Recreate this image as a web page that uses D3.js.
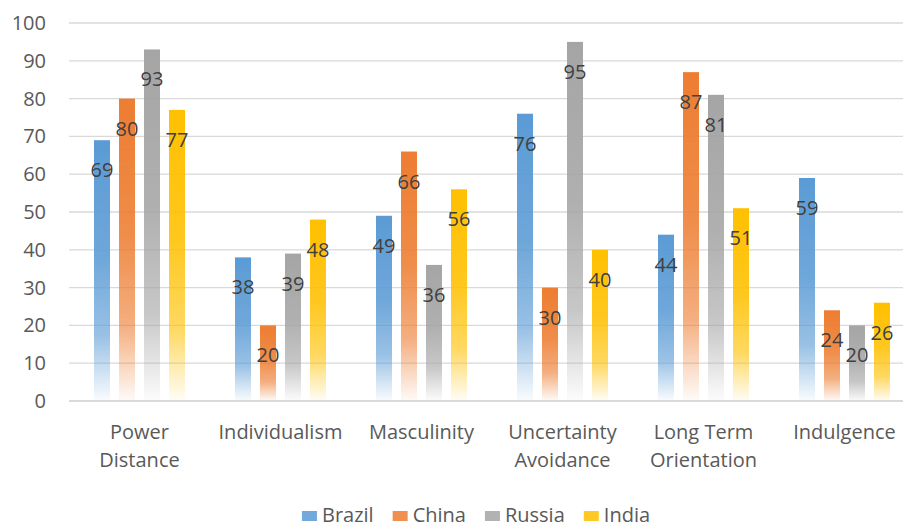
<!DOCTYPE html>
<html>
<head>
<meta charset="utf-8">
<script src="https://cdn.jsdelivr.net/npm/d3@7"></script>
<style>
  html, body { margin: 0; padding: 0; background: #fff; }
  svg { display: block; font-family: "Open Sans", Lato, sans-serif; }
</style>
</head>
<body>
<svg id="chart" width="903" height="529"></svg>
<script>
// Hofstede cultural dimension scores
const categories = [
  ["Power", "Distance"],
  ["Individualism"],
  ["Masculinity"],
  ["Uncertainty", "Avoidance"],
  ["Long Term", "Orientation"],
  ["Indulgence"]
];
const seriesNames = ["Brazil", "China", "Russia", "India"];
const brazil = [69, 38, 49, 76, 44, 59];
const china  = [80, 20, 66, 30, 87, 24];
const russia = [93, 39, 36, 95, 81, 20];
const india  = [77, 48, 56, 40, 51, 26];
const seriesValues = [brazil, china, russia, india];
const seriesColors = ["#5B9BD5", "#ED7D31", "#A5A5A5", "#FFC000"];
const yTicks = [0, 10, 20, 30, 40, 50, 60, 70, 80, 90, 100];

const FONT = "'Open Sans', Lato, sans-serif";
const svg = d3.select("#chart");
const catKeys = categories.map(c => c.join(" "));

const x0 = d3.scaleBand().domain(catKeys).range([69, 915]).padding(0);
const x1 = d3.scaleBand().domain(seriesNames)
  .range([0, x0.bandwidth()]).paddingInner(0.36).paddingOuter(1.0);
const y = d3.scaleLinear().domain([0, 100]).range([401, 23]);
const color = d3.scaleOrdinal().domain(seriesNames).range(seriesColors);

// gradients: solid at the top of each bar, fading out towards the baseline
const defs = svg.append("defs");
seriesNames.forEach(name => {
  const g = defs.append("linearGradient")
    .attr("id", "grad-" + name)
    .attr("x1", 0).attr("y1", 0).attr("x2", 0).attr("y2", 1);
  [[0, 1], [0.45, 0.88], [0.75, 0.62], [0.92, 0.22], [1, 0.03]].forEach(([o, a]) => {
    g.append("stop").attr("offset", o).attr("stop-color", color(name)).attr("stop-opacity", a);
  });
});
const soft = defs.append("filter").attr("id", "soft")
  .attr("x", "-30%").attr("y", "-5%").attr("width", "160%").attr("height", "110%");
soft.append("feGaussianBlur").attr("stdDeviation", 0.7);

// horizontal gridlines
svg.append("g")
  .selectAll("line")
  .data(yTicks.filter(t => t > 0))
  .join("line")
  .attr("x1", 69).attr("x2", 903)
  .attr("y1", d => y(d)).attr("y2", d => y(d))
  .attr("stroke", "#D9D9D9").attr("stroke-width", 1.3);

// y axis labels
const yAxis = d3.axisLeft(y).tickValues(yTicks).tickSize(0).tickPadding(0);
svg.append("g")
  .attr("transform", "translate(46,0)")
  .call(yAxis)
  .call(g => g.select(".domain").remove())
  .call(g => g.selectAll("text")
    .attr("fill", "#595959")
    .style("font-size", "20px")
    .style("font-family", FONT));

// bars
const rows = catKeys.map((key, i) => ({
  key,
  values: seriesNames.map((name, s) => ({ name, value: seriesValues[s][i] }))
}));

const groups = svg.append("g").selectAll("g")
  .data(rows)
  .join("g")
  .attr("transform", d => `translate(${x0(d.key)},0)`);

groups.selectAll("rect")
  .data(d => d.values)
  .join("rect")
  .attr("x", d => x1(d.name))
  .attr("y", d => y(d.value))
  .attr("width", x1.bandwidth())
  .attr("height", d => y(0) - y(d.value))
  .attr("fill", d => `url(#grad-${d.name})`)
  .attr("filter", "url(#soft)");

// baseline
svg.append("line")
  .attr("x1", 69).attr("x2", 903)
  .attr("y1", y(0)).attr("y2", y(0))
  .attr("stroke", "#D9D9D9").attr("stroke-width", 2);

// value labels, just inside the bar ends
groups.selectAll("text.value")
  .data(d => d.values)
  .join("text")
  .attr("class", "value")
  .attr("x", d => x1(d.name) + x1.bandwidth() / 2)
  .attr("y", d => y(d.value) + 30)
  .attr("dy", "0.35em")
  .attr("text-anchor", "middle")
  .attr("fill", "#404040")
  .style("font-size", "20px")
  .text(d => d.value);

// category labels (wrapped onto two lines)
const catLabels = svg.append("g").selectAll("text")
  .data(categories)
  .join("text")
  .attr("x", (d, i) => x0(catKeys[i]) + x0.bandwidth() / 2)
  .attr("y", 432)
  .attr("text-anchor", "middle")
  .attr("fill", "#595959")
  .style("font-size", "20px");
catLabels.selectAll("tspan")
  .data(d => d)
  .join("tspan")
  .attr("x", function () { return d3.select(this.parentNode).attr("x"); })
  .attr("dy", (d, j) => j === 0 ? "0.35em" : "28px")
  .text(d => d);

// legend
const legend = svg.append("g");
const items = legend.selectAll("g")
  .data(seriesNames)
  .join("g");
items.append("rect")
  .attr("width", 15).attr("height", 10)
  .attr("y", -4)
  .attr("fill", d => color(d))
  .attr("opacity", 0.85)
  .attr("filter", "url(#soft)");
items.append("text")
  .attr("x", 20)
  .attr("dy", "0.35em")
  .attr("fill", "#595959")
  .style("font-size", "20px")
  .text(d => d);
let cursor = 0;
const offsets = [];
items.each(function () {
  offsets.push(cursor);
  cursor += this.getBBox().width + 19;
});
const total = cursor - 19;
const startX = 476 - total / 2;
items.attr("transform", (d, i) => `translate(${startX + offsets[i]},515)`);
</script>
</body>
</html>
